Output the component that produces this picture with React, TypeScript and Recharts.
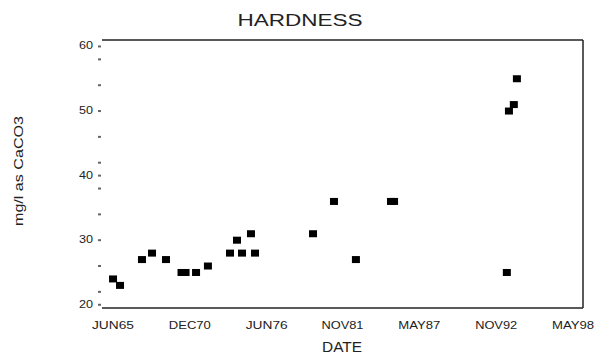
import { ScatterChart, Scatter, XAxis, YAxis, ReferenceLine } from 'recharts'

// sample dates as decimal years, hardness in mg/l as CaCO3
const sampleDates = [
  1965.46, 1965.96, 1967.53, 1968.25, 1969.25, 1970.36, 1970.65, 1971.4, 1972.25,
  1973.83, 1974.33, 1974.69, 1975.33, 1975.62, 1979.77, 1981.27, 1982.84, 1985.35,
  1985.57, 1993.64, 1993.79, 1994.14, 1994.36,
]
const hardness = [
  24, 23, 27, 28, 27, 25, 25, 25, 26,
  28, 30, 28, 31, 28, 31, 36, 27, 36,
  36, 25, 50, 51, 55,
]

const dateTicks = [1965.458, 1970.958, 1976.458, 1981.875, 1987.375, 1992.875, 1998.375]
const dateLabels = ['JUN65', 'DEC70', 'JUN76', 'NOV81', 'MAY87', 'NOV92', 'MAY98']

const yTicks = [20, 22, 26, 30, 34, 38, 40, 42, 46, 50, 54, 58, 60]
const yLabeled = [20, 30, 40, 50, 60]

const X_DOMAIN: [number, number] = [1964.67, 1999.09]
const Y_DOMAIN: [number, number] = [19.5, 61]

const FONT = '"Liberation Sans", Arial, sans-serif'
const INK = '#222'

const data = sampleDates.map((d, i) => ({ date: d, value: hardness[i] }))

const SquareDot = (props: any) => {
  const { cx, cy } = props
  if (cx == null || cy == null) return null
  return <rect x={cx - 4} y={cy - 3.5} width={8} height={7} fill="#000" />
}

const XTick = ({ x, y, payload }: any) => {
  const idx = dateTicks.indexOf(payload.value)
  return (
    <text
      x={x}
      y={y + 21}
      textAnchor="middle"
      fontSize={11}
      fontFamily={FONT}
      fill={INK}
      textLength={42}
      lengthAdjust="spacingAndGlyphs"
    >
      {idx >= 0 ? dateLabels[idx] : ''}
    </text>
  )
}

const YTick = ({ x, y, payload }: any) => {
  const v = payload.value
  return (
    <g>
      <line x1={x - 4} x2={x - 1} y1={y} y2={y} stroke="#666" strokeWidth={2} />
      {yLabeled.includes(v) && (
        <text
          x={x - 9}
          y={y + 3}
          textAnchor="end"
          fontSize={10}
          fontFamily={FONT}
          fill={INK}
          textLength={14}
          lengthAdjust="spacingAndGlyphs"
        >
          {v}
        </text>
      )}
    </g>
  )
}

export default function App() {
  return (
    <div style={{ position: 'absolute', left: 0, top: 0, width: 597, height: 354, background: '#fff' }}>
      <ScatterChart width={597} height={354} margin={{ top: 40, right: 14, bottom: 0, left: 0 }}>
        <XAxis
          type="number"
          dataKey="date"
          domain={X_DOMAIN}
          ticks={dateTicks}
          tick={<XTick />}
          tickLine={false}
          tickSize={0}
          tickMargin={0}
          height={46}
          axisLine={{ stroke: INK, strokeWidth: 1.5 }}
          allowDataOverflow
          interval={0}
        />
        <YAxis
          type="number"
          dataKey="value"
          domain={Y_DOMAIN}
          ticks={yTicks}
          tick={<YTick />}
          tickLine={false}
          tickSize={0}
          tickMargin={0}
          width={102}
          axisLine={false}
          allowDataOverflow
          interval={0}
        />
        <ReferenceLine y={Y_DOMAIN[1]} stroke={INK} strokeWidth={1.5} />
        <ReferenceLine x={X_DOMAIN[1]} stroke={INK} strokeWidth={1.5} />
        <Scatter data={data} shape={<SquareDot />} isAnimationActive={false} />
      </ScatterChart>
      <svg width={597} height={354} style={{ position: 'absolute', left: 0, top: 0, pointerEvents: 'none' }}>
        <text
          x={300}
          y={26}
          textAnchor="middle"
          fontSize={16}
          fontFamily={FONT}
          fill={INK}
          textLength={125}
          lengthAdjust="spacingAndGlyphs"
        >
          HARDNESS
        </text>
        <text
          x={342}
          y={352}
          textAnchor="middle"
          fontSize={14}
          fontFamily={FONT}
          fill={INK}
          textLength={40}
          lengthAdjust="spacingAndGlyphs"
        >
          DATE
        </text>
        <text
          x={23}
          y={171}
          transform="rotate(-90 23 171)"
          textAnchor="middle"
          fontSize={12}
          fontFamily={FONT}
          fill={INK}
          textLength={110}
          lengthAdjust="spacingAndGlyphs"
        >
          mg/l as CaCO3
        </text>
      </svg>
    </div>
  )
}
